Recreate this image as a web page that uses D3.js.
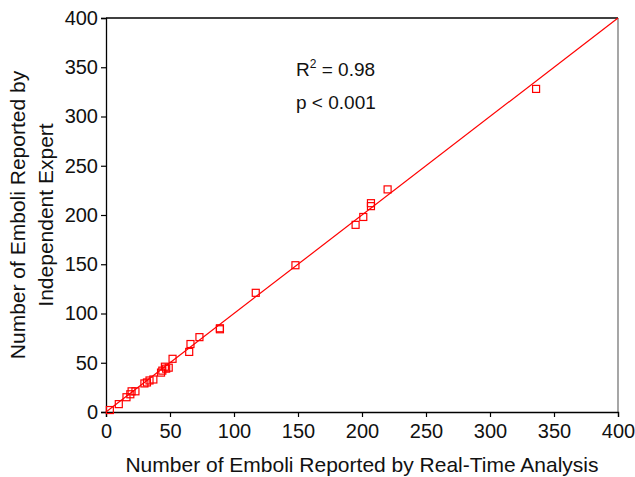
<!DOCTYPE html>
<html>
<head>
<meta charset="utf-8">
<script src="https://cdn.jsdelivr.net/npm/d3@7"></script>
<style>
  body { margin: 0; background: #fff; }
  text { font-family: Arial, "Liberation Sans", sans-serif; fill: #111; }
</style>
</head>
<body>
<svg id="chart" width="635" height="477"></svg>
<script>
// real-time counts vs expert counts
var realTime = [3, 10, 16, 19, 20, 23, 30, 32, 34, 37, 43, 44, 46, 47, 49, 52,
                65, 66, 73, 89, 89, 117, 148, 195, 201, 207, 207, 220, 336];
var expert   = [2, 8, 15, 18, 21, 21, 29, 30, 32, 33, 40, 42, 46, 44, 45, 54,
                61, 69, 76, 84, 85, 121, 149, 190, 198, 209, 212, 226, 328];

// fitted line end points
var fitX = [0, 400];
var fitY = [0, 400];

var tickValues = [0, 50, 100, 150, 200, 250, 300, 350, 400];

var w = 635, h = 477;
var margin = {top: 18, right: 17, bottom: 65, left: 106};

var svg = d3.select('#chart');

var x = d3.scaleLinear().domain([0, 400]).range([margin.left, w - margin.right]);
var y = d3.scaleLinear().domain([0, 400]).range([h - margin.bottom, margin.top]);

// frame (top and right)
svg.append('line')
    .attr('x1', x(0)).attr('x2', x(400))
    .attr('y1', y(400)).attr('y2', y(400))
    .attr('stroke', '#000').attr('stroke-width', 1.3);
svg.append('line')
    .attr('x1', x(400)).attr('x2', x(400))
    .attr('y1', y(400)).attr('y2', y(0))
    .attr('stroke', '#777').attr('stroke-width', 1.3);

var xAxis = svg.append('g')
    .attr('transform', 'translate(0,' + y(0) + ')')
    .call(d3.axisBottom(x).tickValues(tickValues).tickSize(5).tickPadding(7));

var yAxis = svg.append('g')
    .attr('transform', 'translate(' + x(0) + ',0)')
    .call(d3.axisLeft(y).tickValues(tickValues).tickSize(5).tickPadding(3));

[xAxis, yAxis].forEach(function(g) {
    g.select('.domain').attr('stroke', '#000').attr('stroke-width', 1.3);
    g.selectAll('.tick line').attr('stroke', '#000').attr('stroke-width', 1.2);
    g.selectAll('.tick text')
        .style('font-family', 'Arial, "Liberation Sans", sans-serif')
        .style('font-size', '20px')
        .attr('fill', '#111');
});

// fit line
svg.append('line')
    .attr('x1', x(fitX[0])).attr('y1', y(fitY[0]))
    .attr('x2', x(fitX[1])).attr('y2', y(fitY[1]))
    .attr('stroke', '#ff0000').attr('stroke-width', 1.2);

// points
svg.selectAll('rect.pt')
    .data(realTime)
    .enter()
    .append('rect')
    .attr('class', 'pt')
    .attr('x', function(d) { return x(d) - 3.5; })
    .attr('y', function(d, i) { return y(expert[i]) - 3.5; })
    .attr('width', 7)
    .attr('height', 7)
    .attr('fill', 'none')
    .attr('stroke', '#ff0000')
    .attr('stroke-width', 1.2);

// stats
var stats = svg.append('g').style('font-size', '19px');
var r2 = stats.append('text').attr('x', 296).attr('y', 76);
r2.append('tspan').text('R');
r2.append('tspan').text('2').attr('dy', -8).style('font-size', '12px');
r2.append('tspan').text(' = 0.98').attr('dy', 8);
stats.append('text').attr('x', 296).attr('y', 109).text('p < 0.001');

// axis titles
svg.append('text')
    .attr('x', 362).attr('y', 472)
    .attr('text-anchor', 'middle')
    .style('font-size', '21px')
    .text('Number of Emboli Reported by Real-Time Analysis');

var yt = svg.append('text')
    .attr('transform', 'translate(25,' + ((margin.top + h - margin.bottom) / 2) + ') rotate(-90)')
    .attr('text-anchor', 'middle')
    .style('font-size', '21px');
yt.append('tspan').attr('x', 0).attr('dy', 0).text('Number of Emboli Reported by');
yt.append('tspan').attr('x', 0).attr('dy', 28).text('Independent Expert');
</script>
</body>
</html>
